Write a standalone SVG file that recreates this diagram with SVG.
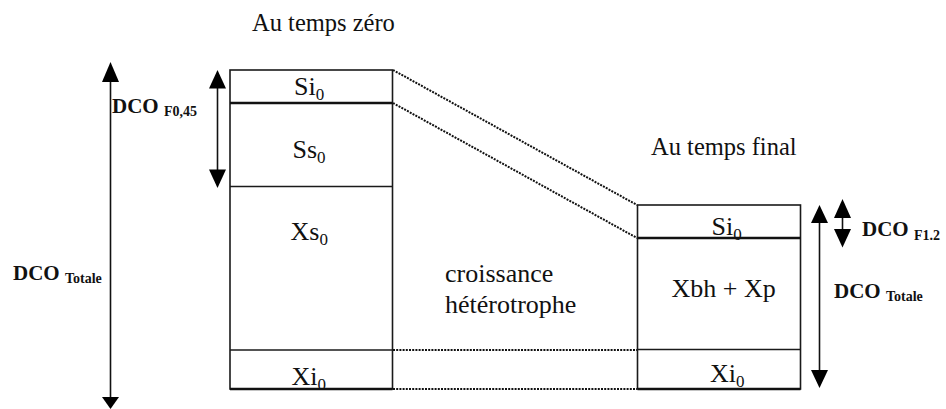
<svg xmlns="http://www.w3.org/2000/svg" width="946" height="409" viewBox="0 0 946 409">
  <defs>
    <style>
      .box { fill: #fff; stroke: #1a1a1a; stroke-width: 1.6; }
      .sep { stroke: #1a1a1a; stroke-width: 1.6; }
      .sep-thick { stroke: #111; stroke-width: 2.4; }
      .ttl { font-size: 24.5px; fill: #111; }
      .lbl { font-size: 26px; fill: #111; }
      .sub { font-size: 17px; }
      .dco { font-size: 21px; font-weight: bold; fill: #111; }
      .dsub { font-size: 14px; }
      .dot { stroke: #111; stroke-width: 2; stroke-dasharray: 2 1.2; fill: none; }
      .shaft { stroke: #111; stroke-width: 1.6; fill: none; }
      .head { fill: #000; }
    </style>
  </defs>
  <rect width="946" height="409" fill="#fff"/>

  <g font-family="Liberation Serif, Times New Roman, DejaVu Serif, serif">
  <!-- column titles -->
  <text class="ttl" x="252" y="31">Au temps zéro</text>
  <text class="ttl" x="651" y="155">Au temps final</text>

  <!-- state at time zero -->
  <g id="box-t0">
    <rect class="box" x="230" y="70" width="162.5" height="319"/>
    <line class="sep-thick" x1="230" y1="103" x2="392.5" y2="103"/>
    <line class="sep" x1="230" y1="186.5" x2="392.5" y2="186.5"/>
    <line class="sep" x1="230" y1="350" x2="392.5" y2="350"/>
    <line class="sep-thick" x1="230" y1="389" x2="392.5" y2="389"/>
    <text class="lbl" x="294" y="95">Si<tspan class="sub" dy="5">0</tspan></text>
    <text class="lbl" x="292.5" y="158">Ss<tspan class="sub" dy="5">0</tspan></text>
    <text class="lbl" x="290.5" y="240">Xs<tspan class="sub" dy="5">0</tspan></text>
    <text class="lbl" x="291.5" y="385">Xi<tspan class="sub" dy="5">0</tspan></text>
  </g>

  <!-- state at final time -->
  <g id="box-tf">
    <rect class="box" x="637.5" y="205" width="163" height="184"/>
    <line class="sep-thick" x1="637.5" y1="238" x2="800.5" y2="238"/>
    <line class="sep" x1="637.5" y1="349.5" x2="800.5" y2="349.5"/>
    <line class="sep-thick" x1="637.5" y1="389" x2="800.5" y2="389"/>
    <text class="lbl" x="711.5" y="235">Si<tspan class="sub" dy="5">0</tspan></text>
    <text class="lbl" x="671.5" y="297">Xbh + Xp</text>
    <text class="lbl" x="710" y="382">Xi<tspan class="sub" dy="5">0</tspan></text>
  </g>

  <!-- process label -->
  <g id="process">
    <text class="lbl" x="445" y="282">croissance</text>
    <text class="lbl" x="445" y="313">hétérotrophe</text>
  </g>

  <!-- dimension labels -->
  <g id="dco-labels">
    <text class="dco" x="112" y="113">DCO <tspan class="dsub" dy="3">F0,45</tspan></text>
    <text class="dco" x="13" y="280">DCO <tspan class="dsub" dy="3">Totale</tspan></text>
    <text class="dco" x="862" y="236">DCO <tspan class="dsub" dy="4">F1.2</tspan></text>
    <text class="dco" x="834" y="298">DCO <tspan class="dsub" dy="3">Totale</tspan></text>
  </g>
  </g>

  <!-- dotted links and dimension arrows -->
  <g id="connectors">
    <line class="dot" x1="393" y1="70" x2="637" y2="205"/>
    <line class="dot" x1="393" y1="103" x2="637" y2="238"/>
    <line class="dot" x1="393" y1="350" x2="637" y2="350"/>
    <line class="dot" x1="393" y1="389" x2="637" y2="389"/>

    <!-- total COD, time zero -->
    <line class="shaft" x1="110.5" y1="78" x2="110.5" y2="400"/>
    <polygon class="head" points="110.5,62 102,82 119,82"/>
    <polygon class="head" points="110.5,409 102,397 119,397"/>

    <!-- COD F0,45 -->
    <line class="shaft" x1="217.5" y1="85" x2="217.5" y2="172"/>
    <polygon class="head" points="217.5,70 209,88.5 226,88.5"/>
    <polygon class="head" points="217.5,188 209,169.5 226,169.5"/>

    <!-- total COD, final time -->
    <line class="shaft" x1="819.5" y1="220" x2="819.5" y2="372"/>
    <polygon class="head" points="819.5,205 811,223 828,223"/>
    <polygon class="head" points="819.5,388 811,370 828,370"/>

    <!-- COD F1.2 -->
    <line class="shaft" x1="842.5" y1="215" x2="842.5" y2="232"/>
    <polygon class="head" points="842.5,199 834,218 851,218"/>
    <polygon class="head" points="842.5,247.5 834,229 851,229"/>
  </g>
</svg>
